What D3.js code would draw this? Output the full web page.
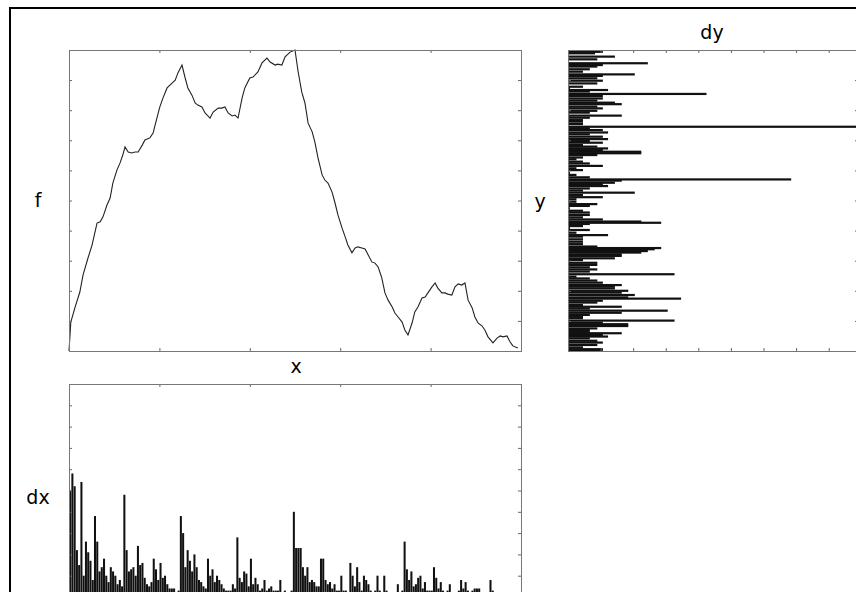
<!DOCTYPE html>
<html>
<head>
<meta charset="utf-8">
<script src="https://cdn.jsdelivr.net/npm/d3@7"></script>
<style>
  body { margin: 0; background: #fff; }
  text { font-family: "DejaVu Sans", sans-serif; font-size: 19px; fill: #000; }
</style>
</head>
<body>
<svg width="856" height="592"></svg>
<script>
// main curve f(x)
const lineX = [0, .004, .013, .024, .031, .042, .051, .062, .069, .075, .084, .091, .097, .106, .113, .119,
  .124, .131, .139, .146, .153, .162, .168, .179, .186, .195, .201, .208, .217, .228, .235, .241, .250,
  .257, .263, .272, .279, .285, .294, .301, .312, .319, .330, .338, .345, .352, .361, .367, .374, .383,
  .389, .400, .407, .418, .427, .438, .445, .456, .462, .471, .478, .489, .500, .507, .515, .522, .529,
  .538, .544, .551, .560, .566, .573, .582, .588, .595, .604, .611, .617, .626, .633, .639, .648, .655,
  .662, .670, .677, .684, .692, .699, .706, .715, .721, .728, .737, .743, .750, .759, .765, .772, .781,
  .788, .794, .803, .810, .816, .825, .832, .838, .847, .854, .861, .869, .876, .883, .892, .898, .905,
  .914, .920, .927, .938, .947, .954, .960, .969, .976, .982, .993];
const lineF = [0, .096, .143, .196, .252, .309, .352, .425, .429, .445, .485, .508, .558, .601, .625, .651,
  .678, .661, .658, .661, .661, .684, .701, .708, .724, .777, .811, .841, .874, .890, .900, .924, .950,
  .907, .874, .850, .824, .817, .811, .791, .774, .794, .807, .807, .811, .791, .781, .784, .774, .841,
  .874, .907, .910, .927, .957, .973, .960, .950, .953, .950, .977, .993, 1, .927, .860, .824, .757,
  .728, .694, .641, .585, .568, .558, .528, .495, .452, .409, .379, .352, .326, .342, .346, .342, .339,
  .319, .296, .292, .279, .243, .193, .169, .146, .126, .113, .096, .070, .053, .093, .130, .146, .176,
  .179, .193, .213, .226, .209, .193, .193, .189, .186, .213, .223, .219, .226, .169, .143, .113, .093,
  .083, .070, .047, .027, .043, .050, .047, .050, .030, .017, .010];

// dx: one bar per x bin (200 bins across x)
const dxBins = [5.0, 5.8, 5.2, 2.2, 1.5, 5.4, 1.0, 2.6, 2.1, 1.7, 0.8, 3.8, 2.6, 1.2, 1.4, 1.8, 1.0, 0.7, 1.4, 1.2,
  1.0, 0.6, 0.8, 0.5, 4.8, 2.2, 1.2, 1.3, 1.4, 1.0, 2.4, 1.5, 1.6, 0.9, 0.6, 0.5, 0.7, 1.8, 1.3, 0.8,
  1.6, 0.9, 1.0, 0.6, 0.4, 0.4, 0.4, 0.2, 0.3, 3.8, 3.0, 1.4, 2.2, 1.7, 1.2, 2.0, 1.4, 0.8, 0.7, 0.5,
  0.4, 1.8, 1.0, 1.3, 0.7, 1.0, 0.8, 0.6, 0.4, 0.3, 0.3, 0.3, 0.6, 0.4, 2.8, 0.9, 0.7, 1.2, 1.1, 0.5,
  1.8, 0.6, 0.9, 0.6, 0.3, 0.4, 0.8, 0.3, 0.4, 0.5, 0.3, 0.3, 0.3, 0.8, 0.2, 0.3, 0.2, 0.2, 0.3, 4.0,
  2.3, 2.3, 2.3, 1.4, 1.0, 1.4, 0.7, 0.8, 0.7, 0.5, 0.5, 1.8, 1.8, 0.8, 0.6, 0.7, 0.4, 0.6, 0.3, 0.3,
  1.0, 0.3, 0.3, 0.2, 1.6, 1.0, 0.5, 1.4, 0.7, 0.3, 1.0, 0.8, 0.6, 0.3, 0.2, 0.3, 1.0, 0.3, 0.2, 1.0,
  0.3, 0.2, 0, 0.2, 0.2, 0.6, 0.2, 0.3, 2.6, 1.3, 0.8, 1.2, 0.5, 0.6, 0.9, 1.0, 0.4, 0.7, 0.3, 0.3,
  0.3, 1.4, 0.9, 0.4, 0.7, 0.3, 0.2, 0.3, 0.6, 0.2, 0.2, 0, 0.3, 0.8, 0.4, 0.7, 0.3, 0.2, 0.3, 0.4,
  0.4, 0.4, 0, 0.2, 0, 0.2, 0.8, 0.3, 0, 0, 0, 0, 0, 0, 0, 0, 0, 0, 0, 0];

// dy: horizontal bars, level on the f axis and length
const dyAt = [.994, .989, .978, .969, .956, .950, .945, .936, .928, .919, .914, .906, .898, .889, .878, .873,
  .867, .862, .854, .847, .839, .832, .825, .820, .812, .806, .798, .792, .782, .775, .767, .762, .754,
  .745, .740, .734, .726, .720, .712, .704, .698, .692, .684, .679, .673, .668, .662, .657, .651, .643,
  .637, .629, .623, .615, .607, .601, .592, .585, .577, .570, .566, .559, .555, .548, .540, .533, .526,
  .518, .511, .504, .496, .488, .482, .474, .466, .460, .452, .444, .437, .430, .426, .422, .415, .408,
  .402, .393, .385, .380, .371, .363, .355, .347, .342, .338, .332, .327, .321, .316, .308, .302, .293,
  .286, .278, .271, .264, .255, .247, .241, .234, .227, .219, .214, .208, .200, .194, .186, .178, .174,
  .167, .161, .153, .147, .141, .134, .127, .120, .114, .109, .101, .094, .089, .083, .075, .070, .064,
  .059, .053, .048, .042, .034, .028, .020, .012, .006, .002];
const dyLen = [1.07, .83, 1.44, .9, 2.45, 1.07, .9, .67, .46, 2.05, 1.07, .9, 1.07, .9, .46, .06,
  1.23, .67, 4.25, 1.07, 1.07, .9, 1.44, 1.65, .9, 1.07, .9, .67, 1.65, .67, .46, .46, .46,
  8.9, .67, 1.07, 1.23, .67, 1.07, 1.23, .67, 1.07, .46, .9, 1.23, 1.07, 2.25, 2.25, .9, .46,
  .26, .46, .67, 1.07, .26, .46, .06, .26, .67, 6.85, 1.65, 1.44, 1.07, 1.23, .67, .46, 2.05,
  .46, 1.07, .26, .26, .9, .67, .06, .46, .67, .67, .46, 1.07, 2.25, 2.86, .67, .46, .06,
  .67, .26, 1.23, .46, .46, .46, .46, .9, 2.86, 2.66, 2.45, 2.25, 1.65, 1.65, 1.44, .46, .9,
  .9, .67, .9, .67, 3.27, .26, .67, .9, 1.07, 1.65, 1.44, 1.44, 1.85, 1.65, 2.05, 1.85, 3.47,
  1.07, .9, .46, 1.65, .67, 3.06, 1.65, .67, .46, .46, 3.27, 1.07, 1.85, 1.85, .9, .67, .67,
  1.65, 1.07, 1.23, .67, .9, 1.07, .9, .46, 1.07, 1.07];

const xTicks = [0.2, 0.4, 0.6, 0.8];
const fTicks = [0.1, 0.2, 0.3, 0.4, 0.5, 0.6, 0.7, 0.8, 0.9];
const dxTicks = [1, 2, 3, 4, 5, 6, 7, 8, 9];
const dyTicks = [1, 2, 3, 4, 5, 6, 7, 8];

const svg = d3.select("svg");

const main   = {left: 69,  top: 50,  width: 452, height: 301};
const side   = {left: 568, top: 50,  width: 290, height: 301};
const bottom = {left: 69,  top: 384, width: 452, height: 213};

const x  = d3.scaleLinear().domain([0, 1]).range([main.left, main.left + main.width]);
const f  = d3.scaleLinear().domain([0, 1]).range([main.top + main.height, main.top]);
const dx = d3.scaleLinear().domain([0, 10]).range([bottom.top + bottom.height, bottom.top]);
const dy = d3.scaleLinear().domain([0, 8.9]).range([side.left, side.left + side.width]);

// window frame around the figure
svg.append("rect")
  .attr("x", 10).attr("y", 8)
  .attr("width", 900).attr("height", 700)
  .attr("fill", "none").attr("stroke", "#000").attr("stroke-width", 2);

// draws inward ticks on all four sides plus the box
function drawFrame(p, xs, xt, ys, yt) {
  const g = svg.append("g").attr("class", "frame");
  const tick = (sel) => sel.call(s => s.select(".domain").remove())
    .call(s => s.selectAll(".tick line").attr("stroke", "#666"));
  if (xs) {
    g.append("g").attr("transform", `translate(0,${p.top + p.height})`)
      .call(d3.axisBottom(xs).tickValues(xt).tickSize(-3).tickFormat("")).call(tick);
    g.append("g").attr("transform", `translate(0,${p.top})`)
      .call(d3.axisTop(xs).tickValues(xt).tickSize(-3).tickFormat("")).call(tick);
  }
  if (ys) {
    g.append("g").attr("transform", `translate(${p.left},0)`)
      .call(d3.axisLeft(ys).tickValues(yt).tickSize(-3).tickFormat("")).call(tick);
    g.append("g").attr("transform", `translate(${p.left + p.width},0)`)
      .call(d3.axisRight(ys).tickValues(yt).tickSize(-3).tickFormat("")).call(tick);
  }
  g.append("rect")
    .attr("x", p.left + 0.5).attr("y", p.top + 0.5)
    .attr("width", p.width).attr("height", p.height)
    .attr("fill", "none").attr("stroke", "#777").attr("stroke-width", 1);
}

// main curve
const line = d3.line().x((d, i) => x(lineX[i])).y(d => f(d));
svg.append("path")
  .datum(lineF)
  .attr("d", line)
  .attr("fill", "none")
  .attr("stroke", "#222")
  .attr("stroke-width", 1.1);

// dx bars
const binW = x(1 / dxBins.length) - x(0);
svg.append("g").selectAll("rect")
  .data(dxBins)
  .join("rect")
  .attr("x", (d, i) => x(i / dxBins.length) + binW * 0.05)
  .attr("y", d => dx(d))
  .attr("width", binW * 0.9)
  .attr("height", d => dx(0) - dx(d))
  .attr("fill", "#111");

// dy bars
svg.append("g").selectAll("rect")
  .data(dyLen)
  .join("rect")
  .attr("x", dy(0))
  .attr("y", (d, i) => f(dyAt[i]) - 1.1)
  .attr("width", d => dy(d) - dy(0))
  .attr("height", 2.2)
  .attr("fill", "#111");

drawFrame(main, x, xTicks, f, fTicks);
drawFrame(side, dy, dyTicks, f, fTicks);
drawFrame(bottom, x, xTicks, dx, dxTicks);

// labels
const labels = [
  {t: "f",  x: 38,  y: 200},
  {t: "y",  x: 540, y: 201},
  {t: "x",  x: 296, y: 366},
  {t: "dy", x: 712, y: 32},
  {t: "dx", x: 38,  y: 497}
];
svg.append("g").selectAll("text")
  .data(labels)
  .join("text")
  .attr("x", d => d.x).attr("y", d => d.y)
  .attr("text-anchor", "middle")
  .attr("dominant-baseline", "central")
  .text(d => d.t);
</script>
</body>
</html>
